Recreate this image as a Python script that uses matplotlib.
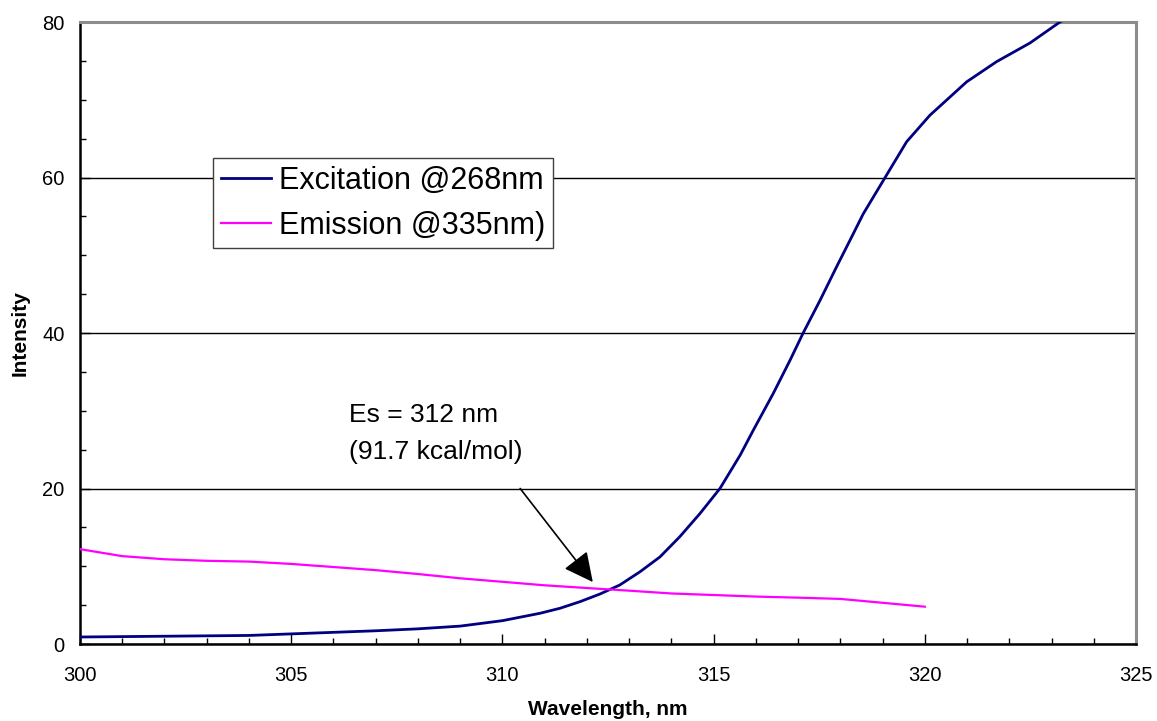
import matplotlib
matplotlib.use("Agg")
import matplotlib.pyplot as plt
from matplotlib.ticker import MultipleLocator

plt.rcParams['font.family'] = ['Liberation Sans', 'DejaVu Sans']

# Excitation spectrum (monitored @268nm)
exc_wl = [300, 301, 302, 303, 304, 305, 306, 307, 308, 309, 310, 310.89, 311.36,
          311.84, 312.31, 312.78, 313.26, 313.73, 314.2, 314.68, 315.15, 315.63,
          315.94, 316.41, 316.81, 317.12, 317.52, 317.91, 318.31, 318.54, 319.06,
          319.57, 320.12, 320.99, 321.70, 322.49, 323.20, 324.0]
exc_int = [0.9, 0.95, 1.0, 1.05, 1.1, 1.3, 1.5, 1.7, 1.95, 2.3, 3.0, 3.95, 4.59,
           5.45, 6.43, 7.59, 9.3, 11.2, 13.8, 16.8, 20.0, 24.3,
           27.5, 32.2, 36.5, 40.0, 44.2, 48.5, 52.8, 55.3, 60.0,
           64.6, 68.0, 72.3, 74.9, 77.3, 80.0, 82.5]

# Emission spectrum (@335nm)
em_wl = [300, 301, 302, 303, 304, 305, 306, 307, 308, 309, 310,
         311, 312, 313, 314, 315, 316, 317, 318, 319, 320]
em_int = [12.2, 11.3, 10.9, 10.7, 10.6, 10.3, 9.9, 9.5, 9.0, 8.45, 8.0,
          7.55, 7.2, 6.86, 6.5, 6.3, 6.1, 5.96, 5.8, 5.3, 4.8]

labels = ["Excitation @268nm", "Emission @335nm)"]
x_ticks = [300, 305, 310, 315, 320, 325]
y_ticks = [0, 20, 40, 60, 80]

fig = plt.figure(figsize=(11.57, 7.21), dpi=100)
ax = fig.add_axes([80/1157, 77/721, 1056/1157, 622/721])

ax.plot(exc_wl, exc_int, color='#000080', lw=2.0, label=labels[0], zorder=3,
        solid_joinstyle='round')
ax.plot(em_wl, em_int, color='#FF00FF', lw=1.6, label=labels[1], zorder=3,
        solid_joinstyle='round')

ax.set_xlim(300, 325)
ax.set_ylim(0, 80)
ax.set_xticks(x_ticks)
ax.set_yticks(y_ticks)
ax.xaxis.set_minor_locator(MultipleLocator(1))
ax.yaxis.set_minor_locator(MultipleLocator(5))
ax.tick_params(which='major', direction='in', length=7, width=1, labelsize=14.5, color='black')
ax.tick_params(axis='y', which='major', pad=11)
ax.tick_params(axis='x', which='major', pad=15.5)
ax.tick_params(which='minor', direction='in', length=4.5, width=1, color='black')

ax.grid(axis='y', which='major', color='black', lw=1.0)
ax.set_axisbelow(True)

for s in ['left', 'bottom']:
    ax.spines[s].set_color('black')
    ax.spines[s].set_linewidth(1.8)
for s in ['top', 'right']:
    ax.spines[s].set_color('#8c8c8c')
    ax.spines[s].set_linewidth(2.2)

ax.set_xlabel('Wavelength, nm', fontsize=15, fontweight='bold', labelpad=11)
ax.set_ylabel('Intensity', fontsize=15, fontweight='bold', labelpad=9)

leg = ax.legend(loc='upper left', bbox_to_anchor=(0.126, 0.781), fontsize=22,
                frameon=True, fancybox=False, shadow=False, framealpha=1,
                edgecolor='#404040', handlelength=1.65, handletextpad=0.25,
                borderpad=0.25, labelspacing=0.48, borderaxespad=0)
leg.get_frame().set_linewidth(1.0)

ax.text(306.37, 28.55, 'Es = 312 nm', fontsize=19, ha='left', va='baseline')
ax.text(306.37, 23.8, '(91.7 kcal/mol)', fontsize=19, ha='left', va='baseline')
ax.annotate('', xy=(312.14, 7.97), xytext=(310.42, 20.0),
            arrowprops=dict(arrowstyle='-|>,head_length=0.9,head_width=0.45',
                            color='black', lw=1.2, shrinkA=0, shrinkB=0,
                            mutation_scale=20))

fig.savefig('out.png', dpi=100)
